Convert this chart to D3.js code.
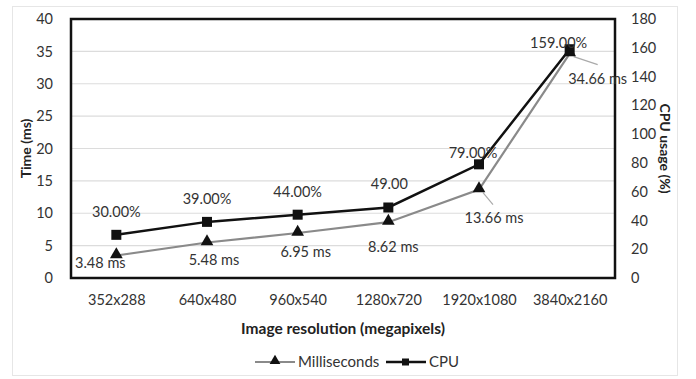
<!DOCTYPE html>
<html>
<head>
<meta charset="utf-8">
<script src="https://cdn.jsdelivr.net/npm/d3@7"></script>
<style>
  html, body { margin: 0; padding: 0; background: #fff; }
  svg { display: block; font-family: Lato, "Open Sans", sans-serif; }
</style>
</head>
<body>
<div id="chart"></div>
<script>
// Resolutions on the x axis
const categories = ["352x288", "640x480", "960x540", "1280x720", "1920x1080", "3840x2160"];
// Processing time per frame (ms), left axis
const msValues = [3.48, 5.48, 6.95, 8.62, 13.66, 34.66];
// CPU usage (%), right axis
const cpuValues = [30, 39, 44, 49, 79, 159];
const cpuLabels = ["30.00%", "39.00%", "44.00%", "49.00", "79.00%", "159.00%"];
const leftTicks = [0, 5, 10, 15, 20, 25, 30, 35, 40];
const rightTicks = [0, 20, 40, 60, 80, 100, 120, 140, 160, 180];

const W = 696, H = 379;
const m = { left: 71, right: 615, top: 19, bottom: 278 };

const svg = d3.select("#chart").append("svg").attr("width", W).attr("height", H);

// outer chart frame
svg.append("rect").attr("x", 12.5).attr("y", 6.5).attr("width", 665).attr("height", 369)
  .attr("fill", "#fff").attr("stroke", "#e6e6e6");

const x = d3.scalePoint().domain(categories).range([m.left, m.right]).padding(0.5);
const yL = d3.scaleLinear().domain([0, 40]).range([m.bottom, m.top]);
const yR = d3.scaleLinear().domain([0, 180]).range([m.bottom, m.top]);

// gridlines
svg.append("g").selectAll("line").data(leftTicks.slice(1, -1)).join("line")
  .attr("x1", m.left).attr("x2", m.right)
  .attr("y1", d => yL(d)).attr("y2", d => yL(d))
  .attr("stroke", "#dcdcdc").attr("stroke-width", 1.2);

// left axis
const axL = svg.append("g").attr("transform", `translate(${m.left},0)`)
  .call(d3.axisLeft(yL).tickValues(leftTicks).tickSize(0).tickPadding(18));
axL.select(".domain").remove();
axL.selectAll("text").attr("font-size", 14.5).attr("fill", "#333").attr("font-family", "Lato, sans-serif");

// right axis
const axR = svg.append("g").attr("transform", `translate(${m.right},0)`)
  .call(d3.axisRight(yR).tickValues(rightTicks).tickSize(0).tickPadding(16));
axR.select(".domain").remove();
axR.selectAll("text").attr("font-size", 14.5).attr("fill", "#333").attr("font-family", "Lato, sans-serif");

// bottom axis labels
const axB = svg.append("g").attr("transform", `translate(0,${m.bottom})`)
  .call(d3.axisBottom(x).tickSize(0).tickPadding(17));
axB.select(".domain").remove();
axB.selectAll("text").attr("font-size", 14.5).attr("fill", "#333").attr("font-family", "Lato, sans-serif");

// plot frame
svg.append("rect").attr("x", m.left).attr("y", m.top)
  .attr("width", m.right - m.left).attr("height", m.bottom - m.top)
  .attr("fill", "none").attr("stroke", "#111").attr("stroke-width", 2.5);

// axis titles
svg.append("text").attr("transform", `translate(31,${(m.top + m.bottom) / 2}) rotate(-90)`)
  .attr("text-anchor", "middle").attr("font-size", 14).attr("font-weight", "bold")
  .attr("fill", "#222").text("Time (ms)");
svg.append("text").attr("transform", `translate(660,${(m.top + m.bottom) / 2}) rotate(90)`)
  .attr("text-anchor", "middle").attr("font-size", 14).attr("font-weight", "bold")
  .attr("fill", "#222").text("CPU usage (%)");
svg.append("text").attr("x", (m.left + m.right) / 2).attr("y", 334)
  .attr("text-anchor", "middle").attr("font-size", 15.5).attr("font-weight", "bold")
  .attr("fill", "#222").text("Image resolution (megapixels)");

// series lines
const msLine = d3.line().x((d, i) => x(categories[i])).y(d => yL(d));
const cpuLine = d3.line().x((d, i) => x(categories[i])).y(d => yR(d));

svg.append("path").datum(msValues).attr("d", msLine)
  .attr("fill", "none").attr("stroke", "#8a8a8a").attr("stroke-width", 2.2);
svg.append("path").datum(cpuValues).attr("d", cpuLine)
  .attr("fill", "none").attr("stroke", "#111").attr("stroke-width", 2.5);

const tri = d3.symbol().type(d3.symbolTriangle).size(70);

// leader lines for the shifted ms labels (offset from the point, or null)
const leaders = [null, null, null, null, [14, 15], [28, 11]];
const msPoints = msValues.map((v, i) => ({ v, i, cat: categories[i], lead: leaders[i] }));
svg.append("g").selectAll("line").data(msPoints.filter(p => p.lead)).join("line")
  .attr("x1", p => x(p.cat) + 4)
  .attr("y1", p => yL(p.v) + 3)
  .attr("x2", p => x(p.cat) + p.lead[0])
  .attr("y2", p => yL(p.v) + p.lead[1])
  .attr("stroke", "#aaa").attr("stroke-width", 1.2);

// markers
svg.append("g").selectAll("path").data(msValues).join("path")
  .attr("d", tri)
  .attr("transform", (d, i) => `translate(${x(categories[i])},${yL(d) - 1})`)
  .attr("fill", "#111");
svg.append("g").selectAll("rect").data(cpuValues).join("rect")
  .attr("x", (d, i) => x(categories[i]) - 5).attr("y", d => yR(d) - 5)
  .attr("width", 10).attr("height", 10).attr("fill", "#111");

// data labels
const cpuOff = [[0, -18], [0, -18], [0, -18], [1, -18], [-6, -6], [-11, -1]];
svg.append("g").selectAll("text").data(cpuValues).join("text")
  .attr("x", (d, i) => x(categories[i]) + cpuOff[i][0])
  .attr("y", (d, i) => yR(d) + cpuOff[i][1])
  .attr("text-anchor", "middle").attr("font-size", 14.5).attr("fill", "#333")
  .text((d, i) => cpuLabels[i]);

const msOff = [[-16, 13], [7, 22], [8, 24], [5, 30], [15, 33], [28, 30]];
svg.append("g").selectAll("text").data(msValues).join("text")
  .attr("x", (d, i) => x(categories[i]) + msOff[i][0])
  .attr("y", (d, i) => yL(d) + msOff[i][1])
  .attr("text-anchor", "middle").attr("font-size", 14.5).attr("fill", "#333")
  .text(d => `${d.toFixed(2)} ms`);

// legend
const lg = svg.append("g").attr("transform", "translate(0,362)");
lg.append("line").attr("x1", 255).attr("x2", 295).attr("y1", 0).attr("y2", 0)
  .attr("stroke", "#8a8a8a").attr("stroke-width", 2.2);
lg.append("path").attr("d", d3.symbol().type(d3.symbolTriangle).size(50))
  .attr("transform", "translate(275,-1)").attr("fill", "#111");
lg.append("text").attr("x", 298).attr("y", 5).attr("font-size", 15).attr("fill", "#333").text("Milliseconds");
lg.append("line").attr("x1", 386).attr("x2", 426).attr("y1", 0).attr("y2", 0)
  .attr("stroke", "#111").attr("stroke-width", 2.5);
lg.append("rect").attr("x", 402).attr("y", -3.5).attr("width", 7).attr("height", 7).attr("fill", "#111");
lg.append("text").attr("x", 429).attr("y", 5).attr("font-size", 15).attr("fill", "#333").text("CPU");
</script>
</body>
</html>
